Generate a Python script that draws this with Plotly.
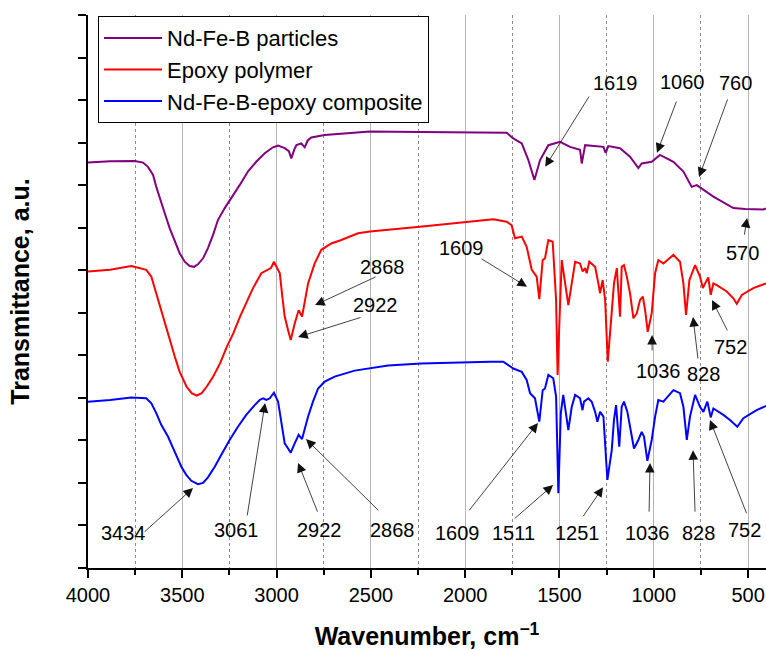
import plotly.graph_objects as go

# ---------------- data (wavenumber, cm-1 ; transmittance in arbitrary offset units) -------------
wn_particles = [4000, 3883, 3752, 3708, 3682, 3655, 3638, 3620, 3593, 3567, 3540, 3514, 3487, 3461,
                3438, 3417, 3390, 3364, 3337, 3311, 3275, 3240, 3196, 3152, 3108, 3063, 3019, 2992,
                2957, 2935, 2922, 2905, 2895, 2869, 2851, 2835, 2816, 2745, 2568, 2505, 2240, 1992,
                1780, 1745, 1700, 1665, 1633, 1603, 1559, 1497, 1444, 1391, 1382, 1364, 1267, 1255,
                1241, 1179, 1126, 1082, 1064, 1011, 967, 896, 843, 799, 772, 684, 578, 516, 419, 405]
t_particles = [9.53, 9.56, 9.57, 9.53, 9.43, 9.24, 8.96, 8.69, 8.34, 7.99, 7.67, 7.40, 7.20, 7.10,
               7.08, 7.14, 7.28, 7.52, 7.83, 8.18, 8.46, 8.69, 9.00, 9.32, 9.55, 9.75, 9.89, 9.93,
               9.87, 9.80, 9.63, 9.85, 9.94, 9.98, 9.89, 10.05, 10.12, 10.18, 10.23, 10.26, 10.25, 10.23,
               10.23, 10.10, 9.98, 9.59, 9.12, 9.59, 9.94, 10.02, 9.90, 9.83, 9.51, 9.94, 9.90, 9.76,
               9.92, 9.87, 9.67, 9.40, 9.51, 9.55, 9.71, 9.55, 9.32, 8.96, 9.00, 8.73, 8.46, 8.44, 8.43, 8.45]

wn_epoxy = [4000, 3883, 3770, 3720, 3691, 3664, 3646, 3620, 3593, 3567, 3540, 3514, 3477, 3450,
            3424, 3397, 3371, 3336, 3300, 3264, 3229, 3194, 3169, 3125, 3081, 3045, 3030, 3014,
            2983, 2970, 2957, 2939, 2925, 2904, 2883, 2865, 2850, 2833, 2798, 2763, 2710, 2657,
            2568, 2505, 2240, 1992, 1851, 1780, 1754, 1736, 1709, 1700, 1674, 1647, 1621, 1607,
            1589, 1577, 1559, 1536, 1518, 1510, 1502, 1488, 1470, 1453, 1435, 1417, 1391, 1377,
            1364, 1356, 1342, 1311, 1294, 1285, 1271, 1258, 1244, 1223, 1211, 1196, 1188, 1179,
            1170, 1158, 1143, 1126, 1108, 1090, 1073, 1058, 1046, 1032, 1011, 993, 976, 949, 896,
            861, 843, 829, 811, 781, 755, 740, 728, 711, 698, 684, 666, 613, 578, 560, 533, 472, 405]
t_epoxy = [6.97, 7.01, 7.10, 7.04, 7.01, 6.85, 6.58, 6.14, 5.75, 5.36, 4.97, 4.61, 4.26, 4.11,
           4.05, 4.11, 4.26, 4.50, 4.81, 5.20, 5.52, 5.91, 6.14, 6.58, 6.93, 7.02, 7.05, 7.20,
           6.93, 6.40, 5.91, 5.59, 5.36, 5.75, 6.06, 5.91, 6.30, 6.69, 7.16, 7.48, 7.63, 7.71,
           7.87, 7.91, 8.02, 8.14, 8.20, 8.14, 8.06, 7.75, 7.79, 7.79, 7.55, 7.01, 6.85, 6.32,
           7.24, 7.28, 7.71, 7.67, 6.30, 4.54, 5.59, 7.24, 6.69, 6.18, 6.69, 7.20, 7.16, 6.97,
           7.05, 6.93, 7.20, 7.08, 6.69, 6.46, 6.77, 6.30, 4.85, 5.91, 6.69, 7.05, 6.38, 5.91,
           7.08, 7.12, 6.85, 6.46, 5.87, 5.99, 6.30, 6.38, 6.06, 5.55, 5.99, 6.93, 7.24, 7.16, 7.36,
           7.20, 6.69, 5.95, 6.77, 7.12, 6.85, 6.58, 6.69, 6.83, 6.42, 6.69, 6.65, 6.50, 6.34, 6.21, 6.42, 6.58, 6.69]

wn_composite = [4000, 3883, 3770, 3691, 3664, 3638, 3611, 3576, 3540, 3505, 3479, 3452, 3417, 3390,
                3364, 3328, 3293, 3249, 3205, 3161, 3116, 3090, 3072, 3054, 3036, 3014, 2992, 2975,
                2957, 2939, 2925, 2904, 2883, 2865, 2833, 2807, 2780, 2745, 2692, 2586, 2409, 2233,
                2100, 1868, 1798, 1745, 1700, 1674, 1656, 1630, 1607, 1589, 1577, 1559, 1533, 1518,
                1506, 1493, 1480, 1465, 1453, 1435, 1417, 1391, 1378, 1370, 1356, 1347, 1329, 1311,
                1299, 1285, 1267, 1246, 1223, 1211, 1200, 1188, 1183, 1170, 1158, 1140, 1122, 1105,
                1082, 1064, 1052, 1034, 1011, 993, 976, 949, 896, 861, 843, 825, 808, 781, 755, 737,
                716, 698, 684, 631, 596, 557, 525, 455, 405]
t_composite = [3.91, 3.95, 4.01, 3.99, 3.87, 3.64, 3.36, 3.09, 2.73, 2.38, 2.19, 2.05, 1.97, 2.00,
               2.13, 2.38, 2.66, 3.01, 3.32, 3.60, 3.83, 3.95, 3.99, 3.95, 3.99, 4.12, 3.91, 3.48,
               2.93, 2.81, 2.71, 2.93, 3.13, 3.03, 3.56, 3.91, 4.22, 4.38, 4.50, 4.64, 4.76, 4.81,
               4.83, 4.85, 4.85, 4.69, 4.61, 4.42, 4.11, 3.99, 3.44, 4.18, 4.22, 4.54, 4.46, 4.03,
               1.76, 3.64, 4.07, 3.64, 3.24, 3.79, 4.07, 3.99, 3.71, 3.91, 3.95, 3.99, 3.91, 3.67,
               3.44, 3.67, 3.56, 2.07, 2.77, 3.48, 3.83, 3.17, 2.85, 3.79, 3.91, 3.67, 3.17, 2.81,
               3.01, 3.20, 3.09, 2.52, 3.01, 3.56, 3.95, 3.91, 4.18, 4.11, 3.79, 3.01, 3.56, 4.07, 3.79, 3.67,
               3.91, 3.54, 3.75, 3.60, 3.48, 3.32, 3.52, 3.71, 3.81]

series_names = ["Nd-Fe-B particles", "Epoxy polymer", "Nd-Fe-B-epoxy composite"]
series_colors = ["#800080", "#ff0000", "#0000ff"]

x_ticks = [4000, 3500, 3000, 2500, 2000, 1500, 1000, 500]

# peak labels: text, text position (x, y), arrow tail (x, y), arrow tip (x, y)
peak_labels = ["1619", "1060", "760", "570",
               "1609", "2868", "2922", "1036", "828", "752",
               "3434", "3061", "2922", "2868", "1609", "1511", "1251", "1036", "828", "752"]
label_x = [1205, 850, 569, 532,
           2017, 2441, 2478, 977, 739, 595,
           3814, 3210, 2775, 2383, 2043, 1746, 1407, 1036, 765, 521]
label_y = [11.40, 11.42, 11.40, 7.40,
           7.52, 7.08, 6.18, 4.63, 4.56, 5.20,
           0.82, 0.89, 0.89, 0.89, 0.82, 0.82, 0.82, 0.82, 0.82, 0.89]
tail_x = [1338, 877, 606, 521,
          1921, 2467, 2547, 1009, 765, 606,
          3708, 3157, 2780, 2452, 1985, 1746, 1380, 1025, 781, 505]
tail_y = [11.12, 11.00, 11.05, 7.80,
          7.29, 6.86, 5.90, 5.08, 4.89, 5.55,
          0.82, 1.20, 1.29, 1.32, 1.32, 1.13, 1.18, 1.29, 1.29, 1.25]
tip_x = [1576, 983, 760, 505,
         1672, 2796, 2886, 1009, 792, 691,
         3443, 3061, 2886, 2844, 1614, 1534, 1269, 1020, 792, 702]
tip_y = [9.43, 9.76, 9.19, 8.23,
         6.61, 6.18, 5.43, 5.48, 5.90, 6.30,
         1.88, 3.88, 2.47, 3.03, 3.41, 1.95, 1.90, 2.47, 2.77, 3.48]

FONT = "Arial, 'Liberation Sans', sans-serif"

fig = go.Figure()
for name, color, xs, ys in zip(series_names, series_colors,
                               [wn_particles, wn_epoxy, wn_composite],
                               [t_particles, t_epoxy, t_composite]):
    fig.add_trace(go.Scatter(x=xs, y=ys, mode="lines", name=name,
                             line=dict(color=color, width=2)))

annotations = []
for txt, lx, ly, ax_, ay_, px_, py_ in zip(peak_labels, label_x, label_y, tail_x, tail_y, tip_x, tip_y):
    annotations.append(dict(x=px_, y=py_, ax=ax_, ay=ay_, xref="x", yref="y", axref="x", ayref="y",
                            text="", showarrow=True, arrowhead=2, arrowsize=2.4, arrowwidth=0.8,
                            arrowcolor="#111111", standoff=0, startstandoff=0))
    annotations.append(dict(x=lx, y=ly, xref="x", yref="y", text=txt, showarrow=False,
                            xanchor="center", yanchor="middle",
                            font=dict(family=FONT, size=20, color="#000000")))

fig.update_layout(
    width=766, height=650,
    margin=dict(l=88, r=0, t=15, b=82),
    paper_bgcolor="white", plot_bgcolor="white",
    font=dict(family=FONT, color="#000000"),
    showlegend=True,
    legend=dict(x=0.0148, y=0.998, xanchor="left", yanchor="top",
                bgcolor="white", bordercolor="#000000", borderwidth=1,
                font=dict(family=FONT, size=22, color="#000000"),
                itemwidth=58, tracegroupgap=0),
    annotations=annotations,
    xaxis=dict(range=[4000, 405], tickvals=x_ticks, ticktext=[str(v) for v in x_ticks],
               ticks="outside", ticklen=8, tickwidth=2, tickcolor="#000000",
               showline=True, linecolor="#000000", linewidth=2, mirror=False,
               showgrid=True, gridcolor="#b4b4b4", gridwidth=1.3, zeroline=False,
               automargin=False,
               tickfont=dict(family=FONT, size=20, color="#000000"),
               minor=dict(dtick=250, tick0=0, ticks="outside", ticklen=5, tickwidth=1.5,
                          tickcolor="#000000", showgrid=True, gridcolor="#8c8c8c",
                          griddash="dot", gridwidth=1),
               title=dict(text="<b>Wavenumber, cm<sup>−1</sup></b>", standoff=24,
                          font=dict(family=FONT, size=25, color="#000000"))),
    yaxis=dict(range=[0, 13], dtick=1, tick0=0, ticks="outside", ticklen=8, tickwidth=2,
               tickcolor="#000000", showticklabels=False,
               showline=True, linecolor="#000000", linewidth=2, mirror=False,
               showgrid=False, zeroline=False, automargin=False,
               title=dict(text="<b>Transmittance, a.u.</b>", standoff=41,
                          font=dict(family=FONT, size=25, color="#000000"))),
)

fig.write_html("out.html")
